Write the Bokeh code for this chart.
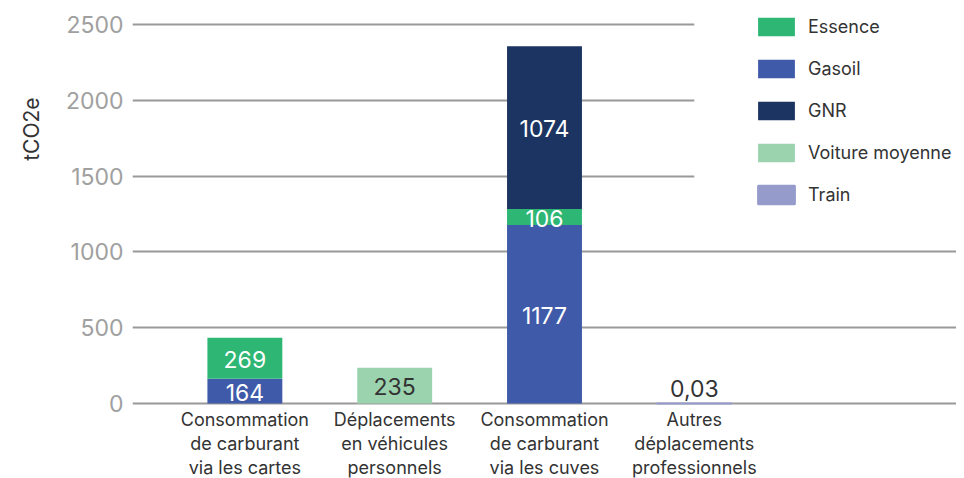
from bokeh.plotting import figure
from bokeh.models import (ColumnDataSource, FixedTicker, Legend, LegendItem,
                          BoxAnnotation, Range1d, Title)
from bokeh.core.properties import value
from bokeh.embed import file_html
from bokeh.resources import INLINE

# ---- data ----
categories = ["Consommation\nde carburant\nvia les cartes",
              "Déplacements\nen véhicules\npersonnels",
              "Consommation\nde carburant\nvia les cuves",
              "Autres\ndéplacements\nprofessionnels"]
# stack order from bottom to top
series = ["Gasoil", "Essence", "GNR", "Voiture moyenne", "Train"]
gasoil = [164, 0, 1177, 0]
essence = [269, 0, 106, 0]
gnr = [0, 0, 1074, 0]
voiture = [0, 235, 0, 0]
train = [0, 0, 0, 0.03]
legend_order = ["Essence", "Gasoil", "GNR", "Voiture moyenne", "Train"]
y_ticks = [0, 500, 1000, 1500, 2000, 2500]

values = {"Gasoil": gasoil, "Essence": essence, "GNR": gnr,
          "Voiture moyenne": voiture, "Train": train}
colors = {"Essence": "#2db674", "Gasoil": "#3f5aa9", "GNR": "#1c3461",
          "Voiture moyenne": "#9bd3ae", "Train": "#959bcb"}
label_colors = {"Essence": "white", "Gasoil": "white", "GNR": "white",
                "Voiture moyenne": "#333333", "Train": "#333333"}

FONT = "Inter"

# layout: canvas 956x478; value axis 0..2500 spans pixels 24..403 from top
W, H = 956, 478
PX_TOP, PX_ZERO = 24, 403
ppu = (PX_ZERO - PX_TOP) / 2500.0
y_lo = -(H - PX_ZERO) / ppu
y_hi = 2500 + PX_TOP / ppu

p = figure(width=W, height=H, output_backend="svg", toolbar_location=None,
           x_range=Range1d(-0.75, 4.75), y_range=Range1d(y_lo, y_hi),
           min_border_left=132, min_border_right=0, min_border_top=0,
           min_border_bottom=0)
p.outline_line_color = None
p.background_fill_color = "white"
p.border_fill_color = "white"

renderers = {}
bottoms = [0.0] * len(categories)
for s in series:
    vals = values[s]
    xs, tops, bots, mids, labels = [], [], [], [], []
    for i, v in enumerate(vals):
        if v > 0:
            xs.append(i)
            bots.append(bottoms[i])
            tops.append(bottoms[i] + v)
            mids.append(bottoms[i] + v / 2)
            labels.append(("%g" % v).replace(".", ","))
            bottoms[i] += v
    src = ColumnDataSource(dict(x=xs, top=tops, bottom=bots, mid=mids, label=labels))
    tiny = s == "Train"
    r = p.vbar(x="x", top="top", bottom="bottom", width=0.5, source=src,
               fill_color=colors[s], line_color=colors[s] if tiny else None,
               line_width=2)
    renderers[s] = r
    if tiny:
        p.text(x="x", y="top", text="label", source=src, text_align="center",
               text_baseline="bottom", y_offset=-6, text_color=label_colors[s],
               text_font=value(FONT), text_font_size="23px")
    else:
        p.text(x="x", y="mid", text="label", source=src, text_align="center",
               text_baseline="middle", y_offset=1, text_color=label_colors[s],
               text_font=value(FONT), text_font_size="23px")

# white area behind the legend (gridlines stop there)
p.add_layout(BoxAnnotation(left=3, bottom=1380, fill_color="white",
                           fill_alpha=1, line_color=None, level="underlay"))

# category labels below the baseline
p.xaxis.visible = False
p.xgrid.grid_line_color = None
cat_src = ColumnDataSource(dict(x=list(range(len(categories))),
                                y=[0] * len(categories), text=categories))
p.text(x="x", y="y", text="text", source=cat_src, text_align="center",
       text_baseline="top", y_offset=5, text_font=value(FONT),
       text_font_size="18px", text_line_height=1.15, text_color="#333333")

ticker = FixedTicker(ticks=y_ticks)
p.yaxis.ticker = ticker
p.ygrid.ticker = ticker
p.yaxis.axis_line_color = None
p.yaxis.major_tick_line_color = None
p.yaxis.minor_tick_line_color = None
p.yaxis.major_label_text_font = FONT
p.yaxis.major_label_text_font_size = "23px"
p.yaxis.major_label_text_color = "#a0a0a0"
p.yaxis.major_label_standoff = 3
p.ygrid.grid_line_color = "#999999"
p.ygrid.grid_line_width = 2

p.add_layout(Title(text="tCO2e", align="right", offset=97,
                   vertical_align="top",
                   text_font=FONT, text_font_size="21px",
                   text_font_style="normal", text_color="#333333",
                   standoff=34), "left")

items = [LegendItem(label=s, renderers=[renderers[s]]) for s in legend_order]
legend = Legend(items=items, location=(621, H - 15 - 191), orientation="vertical",
                glyph_width=46, glyph_height=23, spacing=19, padding=0,
                margin=0, label_standoff=9,
                label_text_font=FONT, label_text_font_size="18px",
                label_text_color="#333333", background_fill_alpha=0,
                border_line_color=None)
p.add_layout(legend)

open("out.html", "w").write(file_html(p, INLINE))
